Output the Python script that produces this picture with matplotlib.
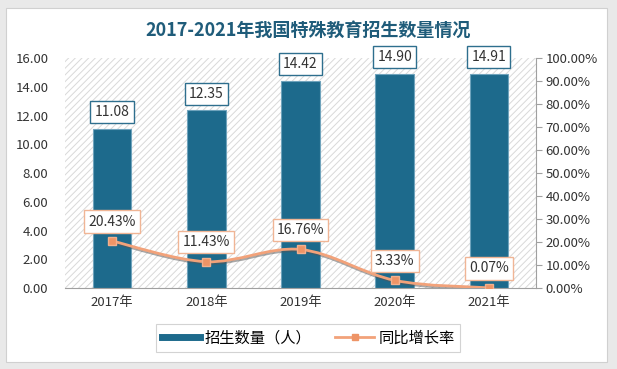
import matplotlib
matplotlib.use("Agg")
import matplotlib.pyplot as plt
import numpy as np
from matplotlib.patches import Rectangle
from matplotlib.path import Path
from matplotlib.patches import PathPatch
from matplotlib.lines import Line2D
import matplotlib.patheffects as pe

plt.rcParams['font.family'] = ['Noto Sans CJK SC', 'DejaVu Sans']

years = ["2017年", "2018年", "2019年", "2020年", "2021年"]
enroll = [11.08, 12.35, 14.42, 14.90, 14.91]
growth = [20.43, 11.43, 16.76, 3.33, 0.07]
left_ticks = [0, 2, 4, 6, 8, 10, 12, 14, 16]
right_ticks = [0, 10, 20, 30, 40, 50, 60, 70, 80, 90, 100]
title = "2017-2021年我国特殊教育招生数量情况"

bar_color = "#1D6A8C"
line_color = "#F2A27A"
marker_color = "#EE9466"
title_color = "#1F5C7A"

fig = plt.figure(figsize=(6.17, 3.69), dpi=100)
fig.patch.set_facecolor("#E9E9E9")
# white panel
fig.patches.append(Rectangle((6/617, 1-362/369), (607-6)/617, (362-8)/369,
                             transform=fig.transFigure, facecolor="white",
                             edgecolor="#D0D0D0", lw=0.8, zorder=-5))

plt.rcParams['hatch.linewidth'] = 0.7
ax = fig.add_axes([65/617, 1-288/369, (536-65)/617, (288-58)/369])
ax.set_zorder(1)
ax.set_facecolor("white")
ax.add_patch(Rectangle((0, 0), 1, 1, transform=ax.transAxes, facecolor="white",
                       edgecolor="#D9D9D9", hatch="/////", lw=0, zorder=0))

x = np.arange(len(years))
ax.bar(x, enroll, width=0.41, color=bar_color, edgecolor="#6FA3BC", lw=0.8, zorder=2)
ax.set_xlim(-0.5, len(years) - 0.5)
ax.set_ylim(0, 16)
ax.set_yticks(left_ticks)
ax.set_yticklabels([f"{v:.2f}" for v in left_ticks], fontsize=9.5, color="#333333")
ax.tick_params(axis='y', length=0, pad=12)
ax.set_xticks(x)
ax.set_xticklabels(years, fontsize=9.5, color="#333333")
ax.tick_params(axis='x', length=0, pad=6)
for s in ["left", "top", "right"]:
    ax.spines[s].set_visible(False)
ax.spines["bottom"].set_color("#A0A0A0")

for xi, v in zip(x, enroll):
    ax.annotate(f"{v:.2f}", (xi, v), xytext=(0, 12), textcoords="offset points",
                ha="center", va="center", fontsize=10, color="#333333", zorder=5,
                bbox=dict(boxstyle="square,pad=0.3", fc="white", ec="#2E6F8E", lw=1))

ax2 = ax.twinx()
ax2.set_zorder(2)
ax2.patch.set_visible(False)
ax2.set_ylim(0, 100)
ax2.set_yticks(right_ticks)
ax2.set_yticklabels([f"{v:.2f}%" for v in right_ticks], fontsize=9.5, color="#333333")
ax2.tick_params(axis='y', length=4, color="#A0A0A0", pad=3)
for s in ["left", "top", "bottom"]:
    ax2.spines[s].set_visible(False)
ax2.spines["right"].set_color("#A0A0A0")

# smooth curve through points (Catmull-Rom -> cubic Bezier), rendered as path
pts = np.column_stack([x, growth]).astype(float)
verts = [tuple(pts[0])]
codes = [Path.MOVETO]
n = len(pts)
for i in range(n - 1):
    p0 = pts[i - 1] if i > 0 else pts[i]
    p1 = pts[i]
    p2 = pts[i + 1]
    p3 = pts[i + 2] if i + 2 < n else pts[i + 1]
    c1 = p1 + (p2 - p0) / 6.0
    c2 = p2 - (p3 - p1) / 6.0
    verts += [tuple(c1), tuple(c2), tuple(p2)]
    codes += [Path.CURVE4] * 3
path = Path(verts, codes)
pp = PathPatch(path, facecolor="none", edgecolor=line_color, lw=2.0, zorder=3,
               transform=ax2.transData,
               path_effects=[pe.SimpleLineShadow(offset=(0.5, -1.2), shadow_color="#555555", alpha=0.5),
                             pe.Normal()])
ax2.add_patch(pp)
ax2.plot(x, growth, ls="none", marker="s", ms=6, color=marker_color,
         mec="#F2B08E", zorder=4)
for xi, v in zip(x, growth):
    ax2.annotate(f"{v:.2f}%", (xi, v), xytext=(0, 14), textcoords="offset points",
                 ha="center", va="center", fontsize=10, color="#333333", zorder=6,
                 bbox=dict(boxstyle="square,pad=0.3", fc="white", ec="#F0B595", lw=1))

fig.text(0.5, 1 - 30/369, title, ha="center", va="center", fontsize=13,
         fontweight="bold", color=title_color)

handles = [Line2D([0], [0], color=bar_color, lw=5),
           Line2D([0], [0], color=line_color, lw=2, marker="s", ms=5,
                  markerfacecolor=marker_color, markeredgecolor=marker_color)]
leg = fig.legend(handles, ["招生数量（人）", "同比增长率"], loc="center",
                 bbox_to_anchor=(308/617, 1 - 338/369), ncol=2, fontsize=11,
                 frameon=True, fancybox=False, edgecolor="#C8C8C8",
                 handlelength=2.5, handletextpad=0.3, columnspacing=1.6,
                 borderpad=0.35)
leg.get_frame().set_linewidth(0.8)

fig.savefig("out.png", dpi=100, facecolor=fig.get_facecolor())
